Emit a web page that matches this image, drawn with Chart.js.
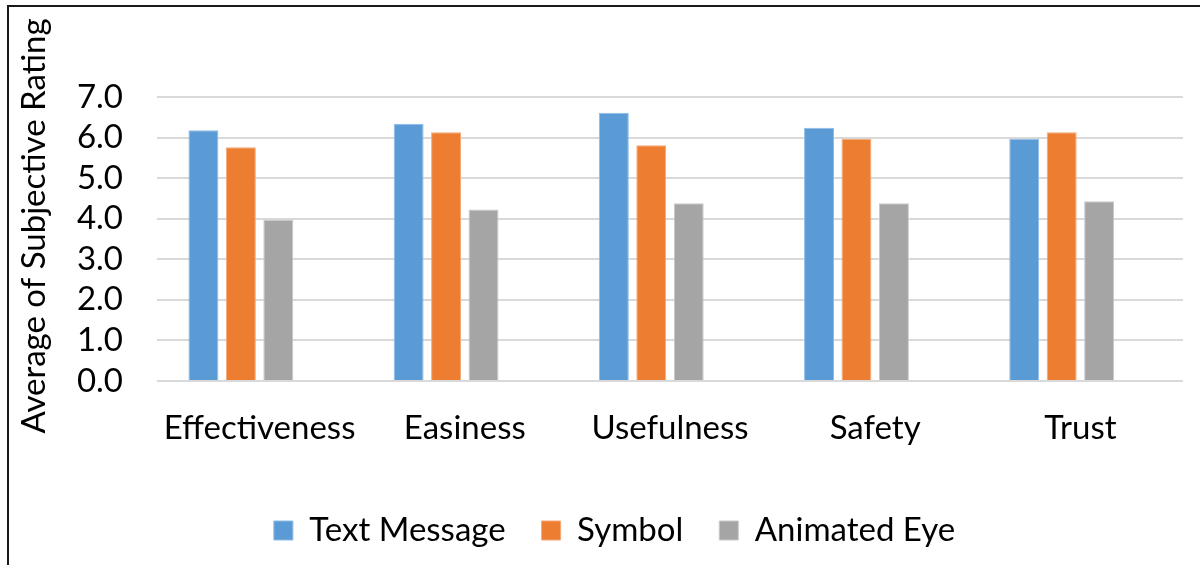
<!DOCTYPE html>
<html>
<head>
<meta charset="utf-8">
<script src="https://cdn.jsdelivr.net/npm/chart.js@4"></script>
<style>
  html, body { margin: 0; padding: 0; background: #ffffff; }
  #wrap { width: 1200px; height: 565px; position: relative; }
</style>
</head>
<body>
<div id="wrap"><canvas id="c" width="1200" height="565"></canvas></div>
<script>
// Ratings per criterion, one array per interface type
const categories = ['Effectiveness', 'Easiness', 'Usefulness', 'Safety', 'Trust'];
const textMessage = [6.18, 6.34, 6.61, 6.24, 5.97];
const symbol = [5.76, 6.13, 5.81, 5.97, 6.13];
const animatedEye = [3.97, 4.23, 4.38, 4.38, 4.43];
// empty fourth series slot that keeps each group shifted left of its label
const emptySlot = [null, null, null, null, null];
const yTicks = [0, 1, 2, 3, 4, 5, 6, 7];
const seriesNames = ['Text Message', 'Symbol', 'Animated Eye'];
const yTitle = 'Average of Subjective Rating';

const FONT = 'Lato, "Open Sans", sans-serif';
const FS = 33;

// outer frame (left and top edges) plus the rotated value-axis title
const framePlugin = {
  id: 'frame',
  afterLayout(chart) {
    // nudge the legend row to the right
    const lg = chart.legend;
    if (lg) { lg.left += 18; lg.right += 18; }
  },
  afterDraw(chart) {
    const ctx = chart.ctx;
    ctx.save();
    ctx.strokeStyle = '#1a1a1a';
    ctx.lineWidth = 2;
    ctx.beginPath();
    ctx.moveTo(8, 565);
    ctx.lineTo(8, 6);
    ctx.lineTo(1200, 6);
    ctx.stroke();
    ctx.translate(34, 226);
    ctx.rotate(-Math.PI / 2);
    ctx.fillStyle = '#000000';
    ctx.font = FS + 'px ' + FONT;
    ctx.textAlign = 'center';
    ctx.textBaseline = 'middle';
    ctx.fillText(yTitle, 0, 0);
    ctx.restore();
  }
};

new Chart(document.getElementById('c'), {
  type: 'bar',
  data: {
    labels: categories,
    datasets: [
      { label: seriesNames[0], data: textMessage, backgroundColor: '#5B9BD5', borderColor: '#8DBBE6', borderWidth: 1 },
      { label: seriesNames[1], data: symbol, backgroundColor: '#ED7D31', borderColor: '#F4A775', borderWidth: 1 },
      { label: seriesNames[2], data: animatedEye, backgroundColor: '#A5A5A5', borderColor: '#C8C8C8', borderWidth: 1 },
      { label: '', data: emptySlot, backgroundColor: 'rgba(0,0,0,0)' }
    ]
  },
  options: {
    responsive: false,
    devicePixelRatio: 1,
    animation: false,
    datasets: { bar: { barPercentage: 0.8, categoryPercentage: 0.73 } },
    layout: { padding: { left: 10, top: 97, right: 17, bottom: 8 } },
    plugins: {
      legend: {
        position: 'bottom',
        labels: {
          filter: (item) => item.datasetIndex < 3,
          font: { family: FONT, size: FS },
          color: '#000000',
          boxWidth: 19,
          boxHeight: 19,
          padding: 36
        }
      },
      tooltip: { enabled: false }
    },
    scales: {
      x: {
        grid: { display: false },
        border: { display: false },
        ticks: { font: { family: FONT, size: FS }, color: '#000000', padding: 20, autoSkip: false, maxRotation: 0 },
        afterFit(scale) { scale.height = 97; }
      },
      y: {
        min: 0,
        max: 7,
        afterBuildTicks(scale) { scale.ticks = yTicks.map(v => ({ value: v })); },
        afterFit(scale) { scale.width = 147; },
        grid: { color: '#D9D9D9', lineWidth: 2, drawTicks: false },
        border: { display: false },
        ticks: {
          font: { family: FONT, size: FS },
          color: '#000000',
          padding: 34,
          autoSkip: false,
          callback: (v) => Number(v).toFixed(1)
        }
      }
    }
  },
  plugins: [framePlugin]
});
</script>
</body>
</html>
